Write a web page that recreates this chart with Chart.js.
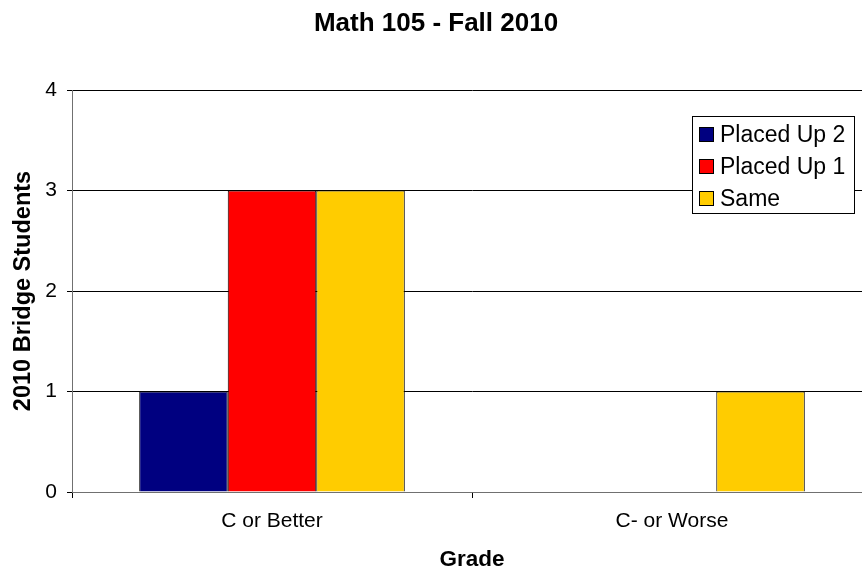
<!DOCTYPE html>
<html><head><meta charset="utf-8">
<script src="https://cdn.jsdelivr.net/npm/chart.js@4"></script>
<style>
html,body{margin:0;padding:0;background:#fff;overflow:hidden;}
#wrap{position:relative;width:872px;height:573px;}
</style></head>
<body><div id="wrap"><canvas id="c"></canvas></div>
<script>
const chartTitle = 'Math 105 - Fall 2010';
const xTitle = 'Grade';
const yTitle = '2010 Bridge Students';
const categories = ['C or Better', 'C- or Worse'];
const seriesNames = ['Placed Up 2', 'Placed Up 1', 'Same'];
const seriesColors = ['#000080', '#FF0000', '#FFCC00'];
const placedUp2 = [1, 0];
const placedUp1 = [3, 0];
const same = [3, 1];
const yTickValues = [0, 1, 2, 3, 4];

const FONT = '"Liberation Sans", Arial, sans-serif';

const boxLegend = {
  id: 'boxLegend',
  afterDraw(chart) {
    const ctx = chart.ctx;
    const x0 = 692.5, y0 = 116.5, w = 162, h = 97;
    ctx.save();
    ctx.fillStyle = '#fff';
    ctx.fillRect(x0, y0, w, h);
    ctx.strokeStyle = '#000';
    ctx.lineWidth = 1;
    ctx.strokeRect(x0, y0, w, h);
    ctx.font = '23px ' + FONT;
    ctx.textBaseline = 'middle';
    ctx.textAlign = 'left';
    chart.data.datasets.forEach((ds, i) => {
      const cy = 134.5 + i * 32;
      ctx.fillStyle = ds.backgroundColor;
      ctx.fillRect(699.5, cy - 7, 14, 14);
      ctx.strokeStyle = '#000';
      ctx.strokeRect(699.5, cy - 7, 14, 14);
      ctx.fillStyle = '#000';
      ctx.fillText(ds.label, 720, cy + 1);
    });
    ctx.restore();
  }
};

const values = [placedUp2, placedUp1, same];
new Chart(document.getElementById('c'), {
  type: 'bar',
  data: {
    labels: categories,
    datasets: seriesNames.map((n, i) => ({
      label: n,
      data: values[i],
      backgroundColor: seriesColors[i],
      borderColor: '#000',
      borderWidth: 1,
      categoryPercentage: 0.664,
      barPercentage: 1.0
    }))
  },
  options: {
    responsive: true,
    maintainAspectRatio: false,
    animation: false,
    layout: { padding: 0 },
    plugins: {
      legend: { display: false },
      tooltip: { enabled: false },
      title: {
        display: true,
        text: chartTitle,
        color: '#000',
        font: { family: FONT, size: 26, weight: 'bold' },
        padding: { top: 8, bottom: 50.8 }
      }
    },
    scales: {
      x: {
        offset: true,
        grid: { display: true, drawOnChartArea: false, drawTicks: true, tickLength: 6, color: '#000', offset: true },
        border: { display: true, color: '#707070', width: 1 },
        ticks: { color: '#000', font: { family: FONT, size: 21 }, padding: 11, maxRotation: 0 },
        title: { display: true, text: xTitle, color: '#000', font: { family: FONT, size: 22.5, weight: 'bold' }, padding: { top: 0, bottom: 0 } },
        afterFit(scale) { scale.height = 81; }
      },
      y: {
        min: 0, max: 4,
        afterBuildTicks(scale) { scale.ticks = yTickValues.map(v => ({ value: v })); },
        grid: { color: '#000', lineWidth: 1, drawTicks: true, tickLength: 5 },
        border: { display: true, color: '#707070', width: 1 },
        ticks: { color: '#000', font: { family: FONT, size: 21 }, padding: 10 },
        title: { display: true, text: yTitle, color: '#000', font: { family: FONT, size: 23.5, weight: 'bold' }, padding: { top: 9.5, bottom: 0 } },
        afterFit(scale) { scale.width = 72; }
      }
    }
  },
  plugins: [boxLegend]
});
</script>
</body></html>
